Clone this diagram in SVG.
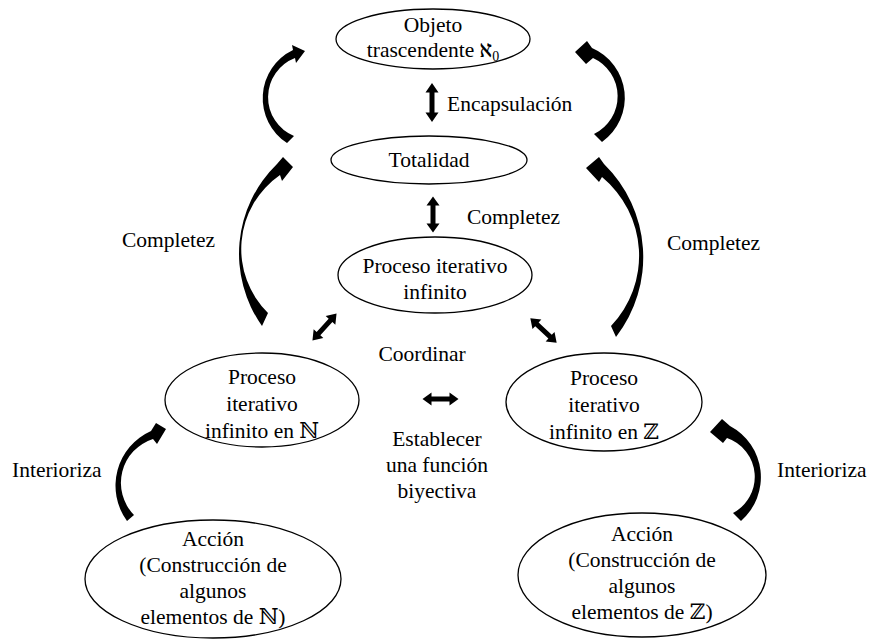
<svg xmlns="http://www.w3.org/2000/svg" xmlns:xlink="http://www.w3.org/1999/xlink" width="869" height="639" viewBox="0 0 869 639">
<style>
  text { font-family: "Liberation Serif", "Times New Roman", "DejaVu Serif", serif; font-size: 21.5px; fill: #000; }
  .c { text-anchor: middle; }
  .sym { font-family: "DejaVu Serif", "Noto Serif", "DejaVu Sans", serif; }
  .node ellipse { fill: #fff; stroke: #000; stroke-width: 1.3; }
  .arr { fill: #000; stroke: none; }
</style>
<defs>
  <path id="dbl" d="M-18,0 L-9,-6.5 L-9,-2.5 L9,-2.5 L9,-6.5 L18,0 L9,6.5 L9,2.5 L-9,2.5 L-9,6.5 Z"/>
  <path id="dblL" d="M-19.5,0 L-10,-6.5 L-10,-2.5 L10,-2.5 L10,-6.5 L19.5,0 L10,6.5 L10,2.5 L-10,2.5 L-10,6.5 Z"/>
</defs>

<g id="connectors">
  <use xlink:href="#dblL" class="arr" transform="translate(432,102.5) rotate(90)"/>
  <use xlink:href="#dbl" class="arr" transform="translate(433,214.5) rotate(90)"/>
  <use xlink:href="#dbl" class="arr" transform="translate(324.5,327) rotate(-48)"/>
  <use xlink:href="#dbl" class="arr" transform="translate(543.5,330.5) rotate(43)"/>
  <use xlink:href="#dbl" class="arr" transform="translate(440.5,399)"/>
  <path class="arr" d="M287,143 A53.5,53.5 0 0 1 293,50 L292,45 L305,51 L296,63 L295,58 A42,42 0 0 0 294,136 Z"/>
  <path class="arr" d="M262,326 A125,125 0 0 1 277,164 L283,157 L293,167 L282,181 L280,175 A90,90 0 0 0 268,313 Z"/>
  <path class="arr" d="M602,142 A54.2,54.2 0 0 0 592,48 L587,41 L575,52 L586,64 L593,58 A42,42 0 0 1 594,134 Z"/>
  <path class="arr" d="M616,337 A130.4,130.4 0 0 0 604,164 L599,157 L586,168 L599,182 L602,177 A102,102 0 0 1 611,326 Z"/>
  <path class="arr" d="M127,521 A59.9,59.9 0 0 1 151,431 L156,423 L166,429 L157,444 L153,439 A46,46 0 0 0 134,515 Z"/>
  <path class="arr" d="M741,521 A58,58 0 0 0 730,426 L722,419 L710,432 L723,443 L727,438 A41,41 0 0 1 733,513 Z"/>
  <text x="447" y="111">Encapsulación</text>
  <text x="467" y="224">Completez</text>
  <text x="122" y="247">Completez</text>
  <text x="667" y="250">Completez</text>
  <text class="c" x="422" y="361">Coordinar</text>
  <text class="c" x="437" y="446">Establecer</text>
  <text class="c" x="437" y="472">una función</text>
  <text class="c" x="437" y="498">biyectiva</text>
  <text x="12" y="477">Interioriza</text>
  <text x="777" y="477">Interioriza</text>
</g>

<g id="objeto" class="node">
  <ellipse cx="433" cy="39" rx="97" ry="30"/>
  <text class="c" x="433" y="32">Objeto</text>
  <text class="c" x="433" y="57">trascendente <tspan class="sym">ℵ</tspan><tspan font-size="14" dy="4">0</tspan></text>
</g>
<g id="totalidad" class="node">
  <ellipse cx="429" cy="160" rx="98" ry="24"/>
  <text class="c" x="429" y="167">Totalidad</text>
</g>
<g id="proceso" class="node">
  <ellipse cx="435" cy="275" rx="97" ry="38"/>
  <text class="c" x="435" y="273">Proceso iterativo</text>
  <text class="c" x="435" y="299">infinito</text>
</g>
<g id="procesoN" class="node">
  <ellipse cx="262" cy="400" rx="97" ry="47"/>
  <text class="c" x="262" y="384">Proceso</text>
  <text class="c" x="262" y="411">iterativo</text>
  <text class="c" x="262" y="438">infinito en <tspan class="sym">ℕ</tspan></text>
</g>
<g id="procesoZ" class="node">
  <ellipse cx="604" cy="402" rx="98" ry="49"/>
  <text class="c" x="604" y="385">Proceso</text>
  <text class="c" x="604" y="412">iterativo</text>
  <text class="c" x="604" y="439">infinito en <tspan class="sym">ℤ</tspan></text>
</g>
<g id="accionN" class="node">
  <ellipse cx="213" cy="579" rx="128" ry="59"/>
  <text class="c" x="213" y="546">Acción</text>
  <text class="c" x="213" y="572">(Construcción de</text>
  <text class="c" x="213" y="598">algunos</text>
  <text class="c" x="213" y="624">elementos de <tspan class="sym">ℕ</tspan>)</text>
</g>
<g id="accionZ" class="node">
  <ellipse cx="642" cy="575" rx="124" ry="62"/>
  <text class="c" x="642" y="541">Acción</text>
  <text class="c" x="642" y="567">(Construcción de</text>
  <text class="c" x="642" y="593">algunos</text>
  <text class="c" x="642" y="619">elementos de <tspan class="sym">ℤ</tspan>)</text>
</g>
</svg>
